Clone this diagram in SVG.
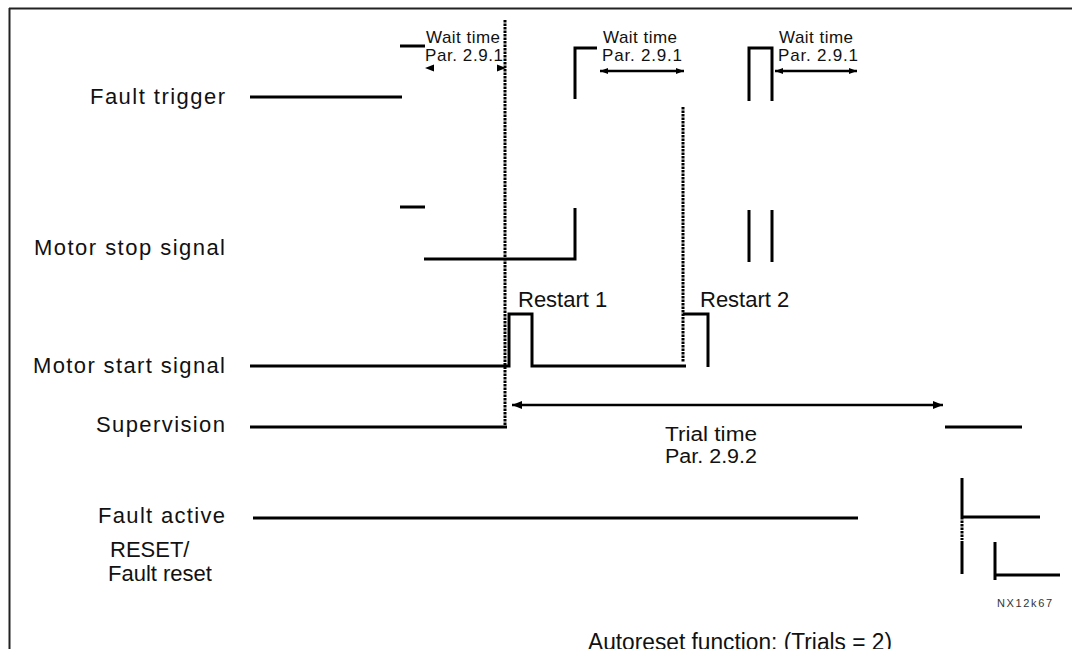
<svg xmlns="http://www.w3.org/2000/svg" width="1072" height="649" viewBox="0 0 1072 649">
<style>
.sig{fill:none;stroke:#000;stroke-width:3;stroke-linecap:butt;stroke-linejoin:miter}
.dot{fill:none;stroke:#000;stroke-width:3;stroke-dasharray:2.5 1}
.arr{fill:none;stroke:#000;stroke-width:2.5}
.lbl{font-family:"Liberation Sans",Arial,sans-serif;font-size:22px;fill:#111}
.sm{font-family:"Liberation Sans",Arial,sans-serif;font-size:17px;fill:#111}
.tiny{font-family:"Liberation Sans",Arial,sans-serif;font-size:11px;fill:#333}
</style>
<defs>
<marker id="ah" viewBox="0 0 10 8" refX="10" refY="4" markerWidth="10" markerHeight="8" markerUnits="userSpaceOnUse" orient="auto-start-reverse">
<path d="M0,0 L10,4 L0,8 Z" fill="#000"/>
</marker>
<marker id="ahs" viewBox="0 0 8 6" refX="8" refY="3" markerWidth="8" markerHeight="6" markerUnits="userSpaceOnUse" orient="auto-start-reverse">
<path d="M0,0 L8,3 L0,6 Z" fill="#000"/>
</marker>
</defs>
<rect width="1072" height="649" fill="#fff"/>
<g id="frame">
<path d="M9,8.5 H1072 M9.5,8 V649" fill="none" stroke="#222" stroke-width="2"/>
</g>
<g id="fault-trigger">
<text class="lbl" x="225" y="104" text-anchor="end" textLength="135" lengthAdjust="spacing">Fault trigger</text>
<path class="sig" d="M250,97 H402 M400,46 H425 M575,99 V48 H597 M749,101 V48 H772 V101"/>
</g>
<g id="motor-stop">
<text class="lbl" x="225" y="255" text-anchor="end" textLength="191" lengthAdjust="spacing">Motor stop signal</text>
<path class="sig" d="M400,207 H425 M424,259 H575 V208 M749,210 V262 M772,210 V262"/>
</g>
<g id="motor-start">
<text class="lbl" x="225" y="373" text-anchor="end" textLength="192" lengthAdjust="spacing">Motor start signal</text>
<path class="sig" d="M250,366 H509 V314 H532 V366 H686 M683,314 H708 V367"/>
<text class="lbl" x="518" y="307">Restart 1</text>
<text class="lbl" x="700" y="307">Restart 2</text>
</g>
<g id="supervision">
<text class="lbl" x="225" y="432" text-anchor="end" textLength="129" lengthAdjust="spacing">Supervision</text>
<path class="sig" d="M250,427 H507 M945,427 H1022"/>
</g>
<g id="fault-active">
<text class="lbl" x="225" y="523" text-anchor="end" textLength="127" lengthAdjust="spacing">Fault active</text>
<path class="sig" d="M253,518 H858 M962,478 V517 M962,541 V574 M962,517 H1040"/>
<path class="dot" d="M962,517 V540"/>
</g>
<g id="fault-reset">
<text class="lbl" x="110" y="557">RESET/</text>
<text class="lbl" x="108" y="581">Fault reset</text>
<path class="sig" d="M995,542 V580 M995,575 H1060"/>
</g>
<g id="connectors">
<path class="dot" d="M505,20 V425"/>
<path class="dot" d="M683,107 V362"/>
<path d="M425,68 L434,64.5 L434,71.5 Z M506,68 L497,64.5 L497,71.5 Z" fill="#000"/>
<path class="arr" d="M600,71 H684" marker-start="url(#ahs)" marker-end="url(#ahs)"/>
<path class="arr" d="M775,71 H857" marker-start="url(#ahs)" marker-end="url(#ahs)"/>
<path class="arr" d="M512,405 H943" marker-start="url(#ah)" marker-end="url(#ah)"/>
</g>
<g id="annotations">
<text class="sm" x="426" y="43" textLength="74" lengthAdjust="spacing">Wait time</text>
<text class="sm" x="425" y="61" textLength="78" lengthAdjust="spacing">Par. 2.9.1</text>
<text class="sm" x="603" y="43" textLength="74" lengthAdjust="spacing">Wait time</text>
<text class="sm" x="602" y="61" textLength="80" lengthAdjust="spacing">Par. 2.9.1</text>
<text class="sm" x="779" y="43" textLength="74" lengthAdjust="spacing">Wait time</text>
<text class="sm" x="778" y="61" textLength="80" lengthAdjust="spacing">Par. 2.9.1</text>
<text class="lbl" x="711" y="441" text-anchor="middle" style="font-size:20px" textLength="92" lengthAdjust="spacingAndGlyphs">Trial time</text>
<text class="lbl" x="711" y="463" text-anchor="middle" style="font-size:20px" textLength="92" lengthAdjust="spacingAndGlyphs">Par. 2.9.2</text>
<text class="tiny" x="997" y="607" textLength="55" lengthAdjust="spacing">NX12k67</text>
<text class="lbl" x="588" y="650" textLength="304" lengthAdjust="spacingAndGlyphs" style="font-size:23px">Autoreset function: (Trials = 2)</text>
</g>
</svg>
